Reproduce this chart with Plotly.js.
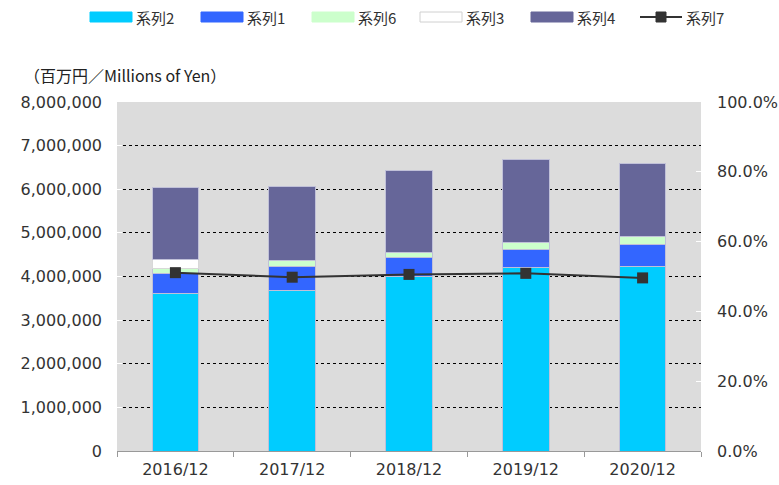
<!DOCTYPE html>
<html><head><meta charset="utf-8">
<script src="https://cdn.plot.ly/plotly-3.0.1.min.js"></script>
<style>html,body{margin:0;padding:0;background:#fff}</style>
</head><body><div id="chart" style="width:779px;height:485px"></div>
<script>
var categories = ["2016/12","2017/12","2018/12","2019/12","2020/12"];
var seriesNames = ["系列2","系列1","系列6","系列3","系列4","系列7"];
var s2 = [3600000, 3690000, 4000000, 4200000, 4240000];
var s1 = [460000, 550000, 430000, 430000, 490000];
var s6 = [120000, 130000, 130000, 140000, 180000];
var s3 = [200000, 0, 0, 0, 0];
var s4 = [1670000, 1690000, 1880000, 1910000, 1680000];
var s7 = [0.511, 0.498, 0.506, 0.509, 0.496];
var yTickVals = [0,1000000,2000000,3000000,4000000,5000000,6000000,7000000,8000000];
var yTickText = ["0","1,000,000","2,000,000","3,000,000","4,000,000","5,000,000","6,000,000","7,000,000","8,000,000"];
var y2TickVals = [0,0.2,0.4,0.6,0.8,1.0];
var y2TickText = ["0.0%","20.0%","40.0%","60.0%","80.0%","100.0%"];

var colors = ["#00ccff","#3366ff","#ccffcc","#ffffff","#666699","#333333"];
var font = "'DejaVu Sans', sans-serif";
var cjk = "'Noto Sans CJK JP', sans-serif";

function bar(i, vals) {
  return {type: "bar", name: seriesNames[i], x: categories, y: vals, showlegend: false,
    marker: {color: colors[i], line: {color: i === 3 ? "#d8d8d8" : "#c0c0d8", width: 1}}};
}
var traces = [bar(0, s2), bar(1, s1), bar(2, s6), bar(3, s3), bar(4, s4),
  {type: "scatter", mode: "lines+markers", name: seriesNames[5], x: categories, y: s7, yaxis: "y2",
   showlegend: false, line: {color: "#333333", width: 2},
   marker: {symbol: "square", size: 11, color: "#333333"}}];

// custom legend (layout decoration), paper coords: plot x 117..701, y 102..451
var L = 117, W = 584, B = 451, H = 349;
function px(x) { return (x - L) / W; }
function py(y) { return (B - y) / H; }
var legendX = [90, 201, 312, 420, 531, 640];
var shapes = [], annotations = [];
for (var i = 0; i < 6; i++) {
  var x0 = legendX[i], x1 = x0 + 42;
  if (i < 5) {
    shapes.push({type: "rect", xref: "paper", yref: "paper", x0: px(x0), x1: px(x1), y0: py(22), y1: py(12),
      fillcolor: colors[i], line: {color: i === 3 ? "#d0d0d0" : colors[i], width: 1}});
  } else {
    shapes.push({type: "line", xref: "paper", yref: "paper", x0: px(x0), x1: px(x1), y0: py(17), y1: py(17),
      line: {color: "#333333", width: 2}});
    shapes.push({type: "rect", xref: "paper", yref: "paper", x0: px(x0 + 16), x1: px(x0 + 26), y0: py(22), y1: py(12),
      fillcolor: "#333333", line: {color: "#333333", width: 1}});
  }
  annotations.push({text: seriesNames[i], xref: "paper", yref: "paper", x: px(x1 + 2), y: py(17),
    xanchor: "left", yanchor: "middle", showarrow: false,
    font: {family: cjk, size: 15, color: "#333333"}});
}
annotations.push({text: "（百万円／Millions of Yen）", xref: "paper", yref: "paper",
  x: px(22), y: py(75), xanchor: "left", yanchor: "middle", showarrow: false,
  font: {family: cjk, size: 16, color: "#222222"}});

var layout = {
  width: 779, height: 485,
  margin: {l: 117, r: 78, t: 102, b: 34, autoexpand: false},
  barmode: "stack", bargap: 0.6,
  paper_bgcolor: "#ffffff", plot_bgcolor: "#dcdcdc",
  font: {family: font, size: 16, color: "#333333"},
  showlegend: false,
  xaxis: {type: "category", tickson: "boundaries", ticks: "outside", ticklen: 5, tickcolor: "#999",
    showline: true, linecolor: "#999", linewidth: 1, showgrid: false, ticklabelstandoff: 4,
    tickfont: {family: font, size: 16, color: "#333"}},
  yaxis: {range: [0, 8000000], tickvals: yTickVals, ticktext: yTickText,
    showgrid: true, gridcolor: "#000000", griddash: "dot", gridwidth: 1, zeroline: false,
    ticks: "inside", ticklen: 5, tickcolor: "#ffffff", ticklabelstandoff: 14,
    tickfont: {family: font, size: 16, color: "#333"}, showline: false},
  yaxis2: {overlaying: "y", side: "right", range: [0, 1], tickvals: y2TickVals, ticktext: y2TickText,
    showgrid: false, zeroline: false, ticks: "inside", ticklen: 5, tickcolor: "#ffffff",
    ticklabelstandoff: 15, tickfont: {family: font, size: 16, color: "#333"}},
  shapes: shapes,
  annotations: annotations
};
Plotly.newPlot("chart", traces, layout, {displayModeBar: false, staticPlot: true});
</script></body></html>
